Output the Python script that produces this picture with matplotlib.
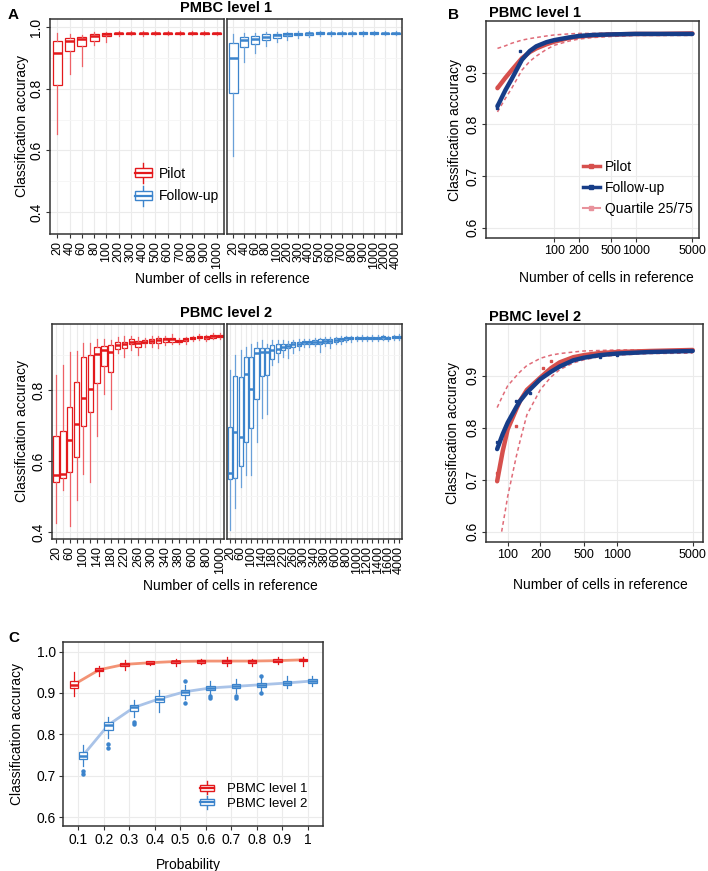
import numpy as np
import matplotlib
matplotlib.use("Agg")
import matplotlib.pyplot as plt
from matplotlib.patches import Rectangle
from matplotlib.lines import Line2D
from matplotlib.legend_handler import HandlerBase

plt.rcParams['font.family'] = ['Liberation Sans', 'DejaVu Sans']

# ---------------- DATA ----------------
# Panel A, level 1
pilot1_cats = ['20', '40', '60', '80', '100', '200', '300', '400', '500', '600', '700', '800', '900', '1000']
pilot1_lo = [.652, .849, .874, .942, .953, .972, .973, .972, .973, .973, .973, .974, .974, .974]
pilot1_q1 = [.811, .921, .938, .956, .970, .977, .978, .977, .977, .977, .977, .977, .977, .977]
pilot1_med = [.915, .956, .960, .970, .978, .980, .980, .980, .980, .979, .979, .980, .980, .979]
pilot1_q3 = [.954, .964, .969, .976, .981, .982, .982, .982, .982, .981, .981, .982, .982, .981]
pilot1_hi = [.981, .978, .975, .985, .985, .986, .986, .987, .986, .986, .986, .986, .986, .985]

follow1_cats = ['20', '40', '60', '80', '100', '200', '300', '400', '500', '600', '700', '800', '900', '1000', '2000', '4000']
follow1_lo = [.581, .887, .915, .940, .951, .958, .963, .968, .970, .971, .971, .972, .972, .973, .974, .974]
follow1_q1 = [.786, .934, .945, .958, .965, .970, .973, .975, .976, .976, .976, .976, .976, .976, .977, .977]
follow1_med = [.899, .957, .960, .967, .973, .976, .978, .979, .980, .979, .979, .979, .980, .980, .980, .980]
follow1_q3 = [.948, .967, .970, .976, .978, .981, .982, .982, .983, .982, .982, .982, .983, .983, .982, .982]
follow1_hi = [.978, .981, .981, .983, .984, .985, .986, .986, .987, .986, .986, .986, .987, .986, .986, .986]

# Panel A, level 2
pilot2_cats = ['20', '40', '60', '80', '100', '120', '140', '160', '180', '200', '220', '240', '260', '280',
               '300', '320', '340', '360', '380', '400', '600', '700', '800', '900', '1000']
pilot2_labels = ['20', '', '60', '', '100', '', '140', '', '180', '', '220', '', '260', '', '300', '', '340', '',
                 '380', '', '600', '', '800', '', '1000']
pilot2_lo = [.424, .518, .417, .490, .562, .542, .669, .789, .746, .905, .892, .913, .899, .922, .922, .919,
             .927, .929, .929, .931, .938, .941, .939, .943, .944]
pilot2_q1 = [.542, .551, .570, .612, .699, .737, .821, .868, .852, .915, .919, .929, .922, .933, .933, .933,
             .936, .936, .934, .939, .943, .946, .945, .947, .948]
pilot2_med = [.559, .563, .659, .703, .777, .803, .901, .913, .908, .927, .929, .936, .933, .936, .939, .941,
              .943, .943, .938, .943, .946, .949, .948, .952, .952]
pilot2_q3 = [.669, .683, .753, .823, .894, .900, .922, .925, .927, .936, .936, .943, .939, .941, .944, .946,
             .946, .947, .941, .946, .948, .952, .952, .955, .956]
pilot2_hi = [.842, .870, .906, .910, .933, .933, .943, .944, .941, .948, .953, .953, .950, .946, .952, .953,
             .952, .957, .946, .950, .953, .957, .956, .960, .960]

follow2_cats = ['20', '40', '60', '80', '100', '120', '140', '160', '180', '200', '220', '240', '260', '280',
                '300', '320', '340', '360', '380', '400', '600', '700', '800', '900', '1000', '1100', '1200',
                '1300', '1400', '1500', '1600', '2000', '4000']
follow2_labels = ['20', '', '60', '', '100', '', '140', '', '180', '', '220', '', '260', '', '300', '', '340', '',
                  '380', '', '600', '', '800', '', '1000', '', '1200', '', '1400', '', '1600', '', '4000']
follow2_lo = [.406, .467, .526, .559, .561, .653, .722, .731, .870, .880, .894, .889, .903, .913, .920, .922,
              .924, .908, .925, .919, .929, .929, .934, .936, .937, .938, .937, .939, .939, .940, .938, .941, .941]
follow2_q1 = [.548, .551, .586, .654, .694, .776, .839, .841, .886, .903, .913, .917, .922, .924, .929, .930,
              .931, .929, .933, .933, .936, .938, .941, .943, .943, .944, .943, .944, .944, .945, .943, .946, .947]
follow2_med = [.565, .681, .667, .845, .802, .903, .906, .906, .913, .916, .922, .924, .929, .931, .934, .934,
               .936, .936, .938, .939, .941, .943, .946, .946, .946, .947, .946, .947, .947, .948, .946, .949, .950]
follow2_q3 = [.695, .839, .836, .892, .894, .917, .919, .919, .927, .931, .930, .931, .934, .936, .939, .939,
              .941, .943, .943, .944, .946, .947, .948, .948, .948, .949, .949, .949, .950, .951, .948, .951, .953]
follow2_hi = [.856, .899, .913, .922, .931, .936, .941, .930, .940, .942, .941, .939, .941, .943, .944, .944,
              .947, .947, .948, .948, .950, .952, .953, .953, .953, .954, .953, .954, .955, .956, .953, .956, .957]

# Panel B, level 1 (fitted curves)
b1_x = [20, 25, 30, 40, 50, 60, 80, 100, 150, 200, 300, 500, 1000, 2000, 5000]
b1_pilot = [.870, .890, .905, .928, .940, .947, .955, .960, .967, .970, .972, .974, .975, .975, .976]
b1_follow = [.835, .866, .888, .925, .942, .951, .959, .963, .968, .971, .973, .974, .975, .975, .975]
b1_upper = [.947, .952, .957, .963, .966, .968, .971, .973, .975, .976, .976, .977, .977, .977, .977]
b1_lower = [.824, .850, .870, .905, .922, .932, .945, .953, .961, .965, .968, .970, .972, .972, .972]
b1_pts_x = [20, 20, 38, 20]
b1_pts_y = [.872, .838, .942, .832]
b1_pts_grp = ['pilot', 'follow', 'follow', 'follow']

# Panel B, level 2
b2_x = [80, 90, 100, 120, 130, 150, 200, 250, 300, 400, 500, 700, 1000, 2000, 5000]
b2_pilot = [.697, .755, .797, .836, .852, .873, .897, .915, .926, .936, .940, .944, .946, .948, .950]
b2_follow = [.759, .788, .810, .840, .852, .868, .894, .908, .918, .930, .935, .940, .943, .946, .948]
b2_upper = [.839, .862, .881, .900, .908, .920, .934, .940, .943, .946, .948, .949, .950, .950, .950]
b2_lower_x = [88, 95, 100, 120, 130, 150, 200, 250, 300, 400, 500, 700, 1000, 2000, 5000]
b2_lower = [.600, .640, .668, .745, .775, .825, .874, .898, .912, .925, .931, .937, .940, .943, .944]
b2_pts_x = [80, 120, 210, 250, 80, 120, 160, 700, 1000]
b2_pts_y = [.712, .803, .915, .928, .772, .852, .867, .937, .940]
b2_pts_grp = ['pilot', 'pilot', 'pilot', 'pilot', 'follow', 'follow', 'follow', 'follow', 'follow']

# Panel C
probs = ['0.1', '0.2', '0.3', '0.4', '0.5', '0.6', '0.7', '0.8', '0.9', '1']
c1_lo = [.892, .940, .956, .968, .965, .969, .964, .966, .969, .965]
c1_q1 = [.912, .952, .965, .970, .973, .973, .973, .973, .975, .977]
c1_med = [.920, .956, .969, .973, .976, .977, .977, .977, .978, .980]
c1_q3 = [.930, .960, .973, .976, .978, .979, .980, .979, .982, .982]
c1_hi = [.950, .965, .980, .978, .982, .982, .986, .982, .988, .986]
c2_lo = [.723, .791, .842, .855, .885, .898, .900, .905, .911, .916]
c2_q1 = [.741, .811, .857, .878, .896, .908, .912, .914, .920, .925]
c2_med = [.749, .823, .865, .886, .903, .912, .916, .920, .924, .929]
c2_q3 = [.757, .831, .872, .892, .908, .917, .922, .925, .929, .933]
c2_hi = [.775, .843, .884, .908, .920, .928, .933, .936, .942, .940]
c2_fliers = [[.711, .704], [.777, .767], [.831, .826], [], [.928, .877], [.893, .888], [.893, .888],
             [.940, .900], [], []]

# ---------------- STYLE ----------------
W, H = 708, 871
RED = '#E3191C'
RED_W = '#EE6166'
BLUE = '#3C84CC'
BLUE_W = '#6AA0D8'
B_RED = '#D6504D'
B_NAVY = '#173D88'
B_DASH = '#E06B78'
GRID = '#EBEBEB'
BORDER = '#333333'

fig = plt.figure(figsize=(W / 100, H / 100), dpi=100)


def px_ax(x0, y0, x1, y1):
    return fig.add_axes([x0 / W, 1 - y1 / H, (x1 - x0) / W, (y1 - y0) / H])


def ftext(x, y, s, **kw):
    fig.text(x / W, 1 - y / H, s, **kw)


def base_style(ax):
    ax.set_facecolor('white')
    for s in ax.spines.values():
        s.set_color(BORDER)
        s.set_linewidth(1.1)
    ax.tick_params(which='major', color=BORDER, length=3, width=0.8, labelcolor='black', pad=2)
    ax.tick_params(which='minor', length=0)
    ax.grid(True, which='major', color=GRID, lw=0.8)
    ax.grid(True, which='minor', color='#F5F5F5', lw=0.6)
    ax.set_axisbelow(True)


def draw_boxes(ax, lo, q1, med, q3, hi, pos, width, color, wcolor, fliers=None, lw=0.9):
    stats = []
    for i in range(len(med)):
        stats.append(dict(med=med[i], q1=q1[i], q3=q3[i], whislo=lo[i], whishi=hi[i],
                          fliers=(fliers[i] if fliers else [])))
    ax.bxp(stats, positions=pos, widths=width, showcaps=False, showfliers=True, patch_artist=True,
           boxprops=dict(facecolor='white', edgecolor=color, linewidth=lw),
           medianprops=dict(color=color, linewidth=lw * 2),
           whiskerprops=dict(color=wcolor, linewidth=lw),
           flierprops=dict(marker='o', markersize=2.2, markerfacecolor=color, markeredgecolor=color))


class BoxKey(HandlerBase):
    def create_artists(self, legend, orig, xd, yd, w, h, fs, trans):
        c = orig.get_color()
        x0, y0 = -xd, -yd
        cx = x0 + w / 2
        bw = w * 0.85
        art = [
            Line2D([cx, cx], [y0 - 0.15 * h, y0 + 0.2 * h], color=c, lw=1, transform=trans),
            Line2D([cx, cx], [y0 + 0.8 * h, y0 + 1.15 * h], color=c, lw=1, transform=trans),
            Rectangle((cx - bw / 2, y0 + 0.2 * h), bw, 0.6 * h, facecolor='white', edgecolor=c, lw=1,
                      transform=trans),
            Line2D([cx - bw / 2, cx + bw / 2], [y0 + 0.5 * h] * 2, color=c, lw=1.6, transform=trans),
        ]
        return art


def facet_pair(top, bottom, ylim, yticks, yminor, left_cats, left_labels, right_cats, right_labels,
               lstats, rstats, xl_left, xl_mid, xl_right, xfs, width):
    axL = px_ax(xl_left, top, xl_mid - 2, bottom)
    axR = px_ax(xl_mid + 1, top, xl_right, bottom)
    for ax, cats, labs, st, col, wcol in [(axL, left_cats, left_labels, lstats, RED, RED_W),
                                           (axR, right_cats, right_labels, rstats, BLUE, BLUE_W)]:
        base_style(ax)
        pos = np.arange(len(cats))
        draw_boxes(ax, *st, pos=pos, width=width, color=col, wcolor=wcol)
        ax.set_xlim(-0.6, len(cats) - 0.4)
        ax.set_ylim(*ylim)
        ax.set_xticks(pos)
        ax.set_xticklabels(labs, rotation=90, va='top', ha='center', fontsize=xfs)
        ax.set_yticks(yticks)
        ax.set_yticks(yminor, minor=True)
    axL.set_yticklabels([f'{v:.1f}' for v in yticks], rotation=90, va='center', fontsize=10)
    axR.set_yticklabels([])
    axR.tick_params(axis='y', length=0)
    return axL, axR


# ---------------- PANEL A (top) ----------------
aL, aR = facet_pair(19, 234, (0.329, 1.026), [0.4, 0.6, 0.8, 1.0], [0.5, 0.7, 0.9],
                    pilot1_cats, pilot1_cats, follow1_cats, follow1_cats,
                    (pilot1_lo, pilot1_q1, pilot1_med, pilot1_q3, pilot1_hi),
                    (follow1_lo, follow1_q1, follow1_med, follow1_q3, follow1_hi),
                    50, 226, 402, 9, 0.75)
aL.legend([Line2D([], [], color=RED), Line2D([], [], color=BLUE)], ['Pilot', 'Follow-up'],
          handler_map={Line2D: BoxKey()}, loc='upper left', bbox_to_anchor=(0.445, 0.345),
          frameon=False, fontsize=10, handlelength=1.5, handleheight=1.3, labelspacing=0.55,
          handletextpad=0.35, borderaxespad=0)

ftext(8, 15, 'A', fontsize=11, fontweight='bold', va='center')
ftext(226, 8, 'PMBC level 1', fontsize=10.5, fontweight='bold', ha='center', va='center')
ftext(22, 126, 'Classification accuracy', fontsize=10, rotation=90, ha='center', va='center')
ftext(222, 279, 'Number of cells in reference', fontsize=10, ha='center', va='center')

# ---------------- PANEL A (bottom) ----------------
bL, bR = facet_pair(324, 539, (0.380, 0.986), [0.4, 0.6, 0.8], [0.5, 0.7, 0.9],
                    pilot2_cats, pilot2_labels, follow2_cats, follow2_labels,
                    (pilot2_lo, pilot2_q1, pilot2_med, pilot2_q3, pilot2_hi),
                    (follow2_lo, follow2_q1, follow2_med, follow2_q3, follow2_hi),
                    52, 226, 402, 9, 0.78)
ftext(226, 313, 'PBMC level 2', fontsize=10.5, fontweight='bold', ha='center', va='center')
ftext(22, 431, 'Classification accuracy', fontsize=10, rotation=90, ha='center', va='center')
ftext(230, 586, 'Number of cells in reference', fontsize=10, ha='center', va='center')


# ---------------- PANEL B ----------------
def panel_b(box, xlim, xs, pilot, follow, upper, lower_x, lower, ptx, pty, ptg, legend=False):
    ax = px_ax(*box)
    base_style(ax)
    ax.set_xscale('log')
    ax.plot(xs, upper, color=B_DASH, lw=1.1, ls=(0, (2.5, 2)), zorder=2)
    ax.plot(lower_x, lower, color=B_DASH, lw=1.1, ls=(0, (2.5, 2)), zorder=2)
    ax.plot(xs, pilot, color=B_RED, lw=3.2, solid_capstyle='round', zorder=3)
    ax.plot(xs, follow, color=B_NAVY, lw=3.2, solid_capstyle='round', zorder=4)
    for x, y, g in zip(ptx, pty, ptg):
        ax.plot([x], [y], 's', ms=1.8, color=(B_RED if g == 'pilot' else B_NAVY), zorder=5)
    ax.set_xlim(*xlim)
    ax.set_ylim(0.58, 1.0)
    ax.set_xticks([100, 200, 500, 1000, 5000])
    ax.set_xticklabels(['100', '200', '500', '1000', '5000'], fontsize=9)
    ax.xaxis.set_minor_locator(matplotlib.ticker.NullLocator())
    ax.set_yticks([0.6, 0.7, 0.8, 0.9])
    ax.set_yticklabels(['0.6', '0.7', '0.8', '0.9'], rotation=90, va='center', fontsize=10)
    if legend:
        hs = [Line2D([], [], color=B_RED, lw=2.5, marker='s', ms=3.5),
              Line2D([], [], color=B_NAVY, lw=2.5, marker='s', ms=3.5),
              Line2D([], [], color='#E8929C', lw=1.5, marker='s', ms=3.5)]
        ax.legend(hs, ['Pilot', 'Follow-up', 'Quartile 25/75'], loc='upper left',
                  bbox_to_anchor=(0.43, 0.385), frameon=False, fontsize=10, handlelength=1.2,
                  labelspacing=0.5, handletextpad=0.4, borderaxespad=0)
    return ax


panel_b((486, 21, 699, 238), (14.45, 6026), b1_x, b1_pilot, b1_follow, b1_upper, b1_x, b1_lower,
        b1_pts_x, b1_pts_y, b1_pts_grp, legend=True)
ftext(448, 15, 'B', fontsize=11, fontweight='bold', va='center')
ftext(489, 13, 'PBMC level 1', fontsize=10.5, fontweight='bold', ha='left', va='center')
ftext(455, 130, 'Classification accuracy', fontsize=10, rotation=90, ha='center', va='center')
ftext(606, 278, 'Number of cells in reference', fontsize=10, ha='center', va='center')

panel_b((486, 324, 703, 542), (63.2, 6220), b2_x, b2_pilot, b2_follow, b2_upper, b2_lower_x, b2_lower,
        b2_pts_x, b2_pts_y, b2_pts_grp)
ftext(489, 317, 'PBMC level 2', fontsize=10.5, fontweight='bold', ha='left', va='center')
ftext(453, 433, 'Classification accuracy', fontsize=10, rotation=90, ha='center', va='center')
ftext(600, 585, 'Number of cells in reference', fontsize=10, ha='center', va='center')

# ---------------- PANEL C ----------------
axc = px_ax(63, 642, 323, 826)
base_style(axc)
pc = np.arange(len(probs))
off = 0.18
axc.plot(pc - off, c1_med, color='#F39375', lw=2, zorder=1.5)
axc.plot(pc + off, c2_med, color='#A9C3E8', lw=2, zorder=1.5)
draw_boxes(axc, c1_lo, c1_q1, c1_med, c1_q3, c1_hi, pos=pc - off, width=0.33, color=RED, wcolor=RED)
draw_boxes(axc, c2_lo, c2_q1, c2_med, c2_q3, c2_hi, pos=pc + off, width=0.33, color=BLUE, wcolor=BLUE,
           fliers=c2_fliers)
axc.set_xlim(-0.6, 9.6)
axc.set_ylim(0.579, 1.023)
axc.set_xticks(pc)
axc.set_xticklabels(probs, fontsize=10)
axc.set_yticks([0.6, 0.7, 0.8, 0.9, 1.0])
axc.set_yticklabels(['0.6', '0.7', '0.8', '0.9', '1.0'], fontsize=10)
axc.legend([Line2D([], [], color=RED), Line2D([], [], color=BLUE)], ['PBMC level 1', 'PBMC level 2'],
           handler_map={Line2D: BoxKey()}, loc='upper left', bbox_to_anchor=(0.5, 0.265),
           frameon=False, fontsize=9.5, handlelength=1.3, handleheight=0.8, labelspacing=0.15,
           handletextpad=0.9, borderaxespad=0)
ftext(8, 638, 'C', fontsize=11, fontweight='bold', va='center')
ftext(17, 734, 'Classification accuracy', fontsize=10, rotation=90, ha='center', va='center')
ftext(188, 865, 'Probability', fontsize=10, ha='center', va='center')

fig.savefig('out.png', dpi=100, facecolor='white')
